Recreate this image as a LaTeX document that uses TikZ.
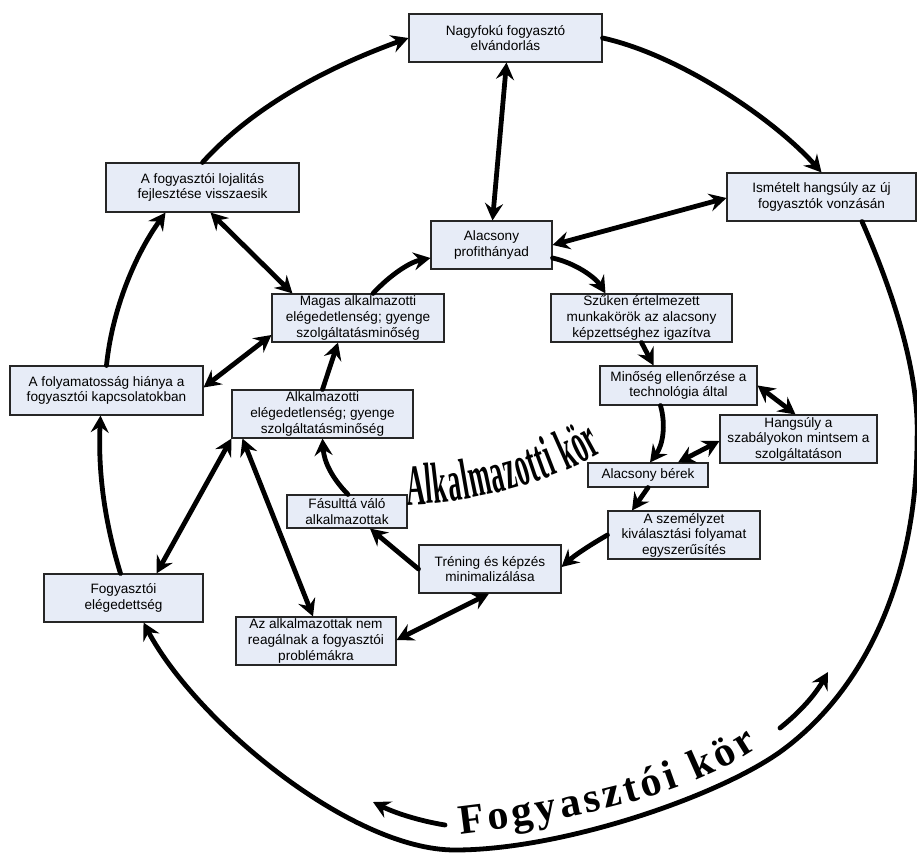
\documentclass[tikz,border=0pt]{standalone}
\usepackage{fontspec}
\setmainfont{Liberation Sans}
\newfontfamily\boxfont{Liberation Sans}
\newfontfamily\serifbig{Liberation Serif}
\newfontfamily\serifnarrow[FakeStretch=0.45]{Liberation Serif}
\usetikzlibrary{arrows.meta,calc,decorations.text}
\definecolor{boxfill}{RGB}{231,236,247}
\begin{document}
\begin{tikzpicture}[x=1pt,y=-1pt,
  box/.style={draw=black!85, line width=1.1pt, fill=boxfill, inner sep=0pt, align=center,
    font=\boxfont\fontsize{13.6}{15.6}\selectfont},
  con/.style={line width=4.8pt, line cap=round, -{Stealth[length=17pt,width=18pt,inset=6pt]}},
  con2/.style={line width=4.8pt, {Stealth[length=17pt,width=18pt,inset=6pt]}-{Stealth[length=17pt,width=18pt,inset=6pt]}},
]
\useasboundingbox (0,0) rectangle (917,853);

% boxes
\node[box,minimum width=193pt,minimum height=48pt] (nagy) at (505.5,38) {Nagyfokú fogyasztó\\elvándorlás};
\node[box,minimum width=193pt,minimum height=49pt] (loj) at (202.5,187.5) {A fogyasztói lojalitás\\fejlesztése visszaesik};
\node[box,minimum width=189pt,minimum height=48pt] (isme) at (821.5,197) {Ismételt hangsúly az új\\fogyasztók vonzásán};
\node[box,minimum width=121pt,minimum height=48pt] (prof) at (491.5,245) {Alacsony\\profithányad};
\node[box,minimum width=172pt,minimum height=48pt] (magas) at (358,318) {Magas alkalmazotti\\elégedetlenség; gyenge\\szolgáltatásminőség};
\node[box,minimum width=181pt,minimum height=48pt] (szuk) at (641.5,318) {Szűken értelmezett\\munkakörök az alacsony\\képzettséghez igazítva};
\node[box,minimum width=193pt,minimum height=49pt] (foly) at (106.5,390.5) {A folyamatosság hiánya a\\fogyasztói kapcsolatokban};
\node[box,minimum width=181pt,minimum height=48pt] (alk) at (322.5,414) {Alkalmazotti\\elégedetlenség; gyenge\\szolgáltatásminőség};
\node[box,minimum width=157pt,minimum height=39pt] (min) at (678.5,385.5) {Minőség ellenőrzése a\\technológia által};
\node[box,minimum width=157pt,minimum height=48pt] (hang) at (798.5,439) {Hangsúly a\\szabályokon mintsem a\\szolgáltatáson};
\node[box,minimum width=120pt,minimum height=24pt] (ber) at (648,475) {Alacsony bérek};
\node[box,minimum width=120pt,minimum height=33pt] (fas) at (347,511.5) {Fásulttá váló\\alkalmazottak};
\node[box,minimum width=152pt,minimum height=48pt] (szem) at (684,535) {A személyzet\\kiválasztási folyamat\\egyszerűsítés};
\node[box,minimum width=142pt,minimum height=48pt] (tren) at (490,569) {Tréning és képzés\\minimalizálása};
\node[box,minimum width=159pt,minimum height=48pt] (fe) at (123.5,598) {Fogyasztói\\elégedettség};
\node[box,minimum width=160pt,minimum height=48pt] (nem) at (316,641) {Az alkalmazottak nem\\reagálnak a fogyasztói\\problémákra};

% outer cycle
\draw[con] (loj.north) .. controls (250,110) and (320,70) .. (nagy.west);
\draw[con] (nagy.east) .. controls (680,55) and (775,120) .. (isme.north);
\coordinate (arcS) at ($(isme.south)+(40.5,0)$);
\coordinate (arcE) at ($(fe.south)+(20,0)$);
\draw[con] (arcS) .. controls (890,285) and (920,370) .. (917,440)
  .. controls (917,570) and (870,687) .. (780,752)
  .. controls (715,798) and (560,850) .. (455,850)
  .. controls (350,850) and (195,720) .. (arcE);
\draw[con] ($(fe.north)+(-3,0)$) .. controls (104,520) and (98,470) .. ($(foly.south)+(-6,0)$);
\draw[con] (foly.north) .. controls (112,310) and (135,255) .. ($(loj.south)+(-37,0)$);

% inner connectors
\draw[con2] ($(loj.south)+(8,0)$) -- ($(magas.north west)+(21,0)$);
\draw[con2] ($(nagy.south)+(1,0)$) -- ($(prof.north)+(1,0)$);
\draw[con2] ($(isme.west)+(0,1)$) -- (prof.east);
\draw[con] ($(magas.north)+(15,0)$) .. controls (390,275) and (410,262) .. ($(prof.west)+(0,13)$);
\draw[con] ($(prof.east)+(0,13)$) .. controls (575,263) and (595,277) .. ($(szuk.north)+(-36,0)$);
\draw[con] (szuk.south) -- ($(min.north)+(-25,0)$);
\draw[con2] (min.east) -- ($(hang.north)+(-3,0)$);
\draw[con] ($(min.south)+(-18,0)$) .. controls (666,425) and (663,445) .. ($(ber.north)+(2,0)$);
\draw[con2] ($(hang.west)+(0,2)$) -- ($(ber.north)+(30,0)$);
\draw[con] (ber.south) -- ($(szem.north)+(-52,0)$);
\draw[con] (szem.west) .. controls (590,545) and (575,555) .. ($(tren.east)+(0,-2)$);
\draw[con] (tren.west) -- ($(fas.south)+(23,0)$);
\draw[con] ($(fas.north)+(1,0)$) .. controls (332,478) and (324,462) .. (alk.south);
\draw[con] (alk.north) -- ($(magas.south)+(-20,0)$);
\draw[con2] ($(foly.east)+(0,-3)$) -- ($(magas.west)+(0,17)$);
\draw[con2] ($(fe.north)+(33,0)$) -- (alk.south west);
\draw[con2] ($(alk.south west)+(11,0)$) -- ($(nem.north)+(-3,0)$);
\draw[con2] ($(tren.south)+(-1,0)$) -- ($(nem.east)+(0,-1)$);

% decorative arrows of the customer cycle
\coordinate (fkLs) at (445,825);
\coordinate (fkLe) at (373,802);
\coordinate (fkRs) at (780,728);
\coordinate (fkRe) at (828,672);
\draw[con] (fkLs) .. controls (420,821) and (395,813) .. (fkLe);
\draw[con] (fkRs) .. controls (800,712) and (815,695) .. (fkRe);

% curved titles
\path[decorate, decoration={text along path,
  text={|\serifbig\bfseries\fontsize{42}{42}\selectfont|Fogyasztói kör},
  text align=fit to path}]
  (460,834) .. controls (560,822) and (680,800) .. (758,748);
\path[decorate, decoration={text along path,
  text={|\serifnarrow\bfseries\fontsize{58}{58}\selectfont|Alkalmazotti kör},
  text align=fit to path}]
  (407,505) .. controls (470,503) and (545,485) .. (603,452);
\end{tikzpicture}
\end{document}
